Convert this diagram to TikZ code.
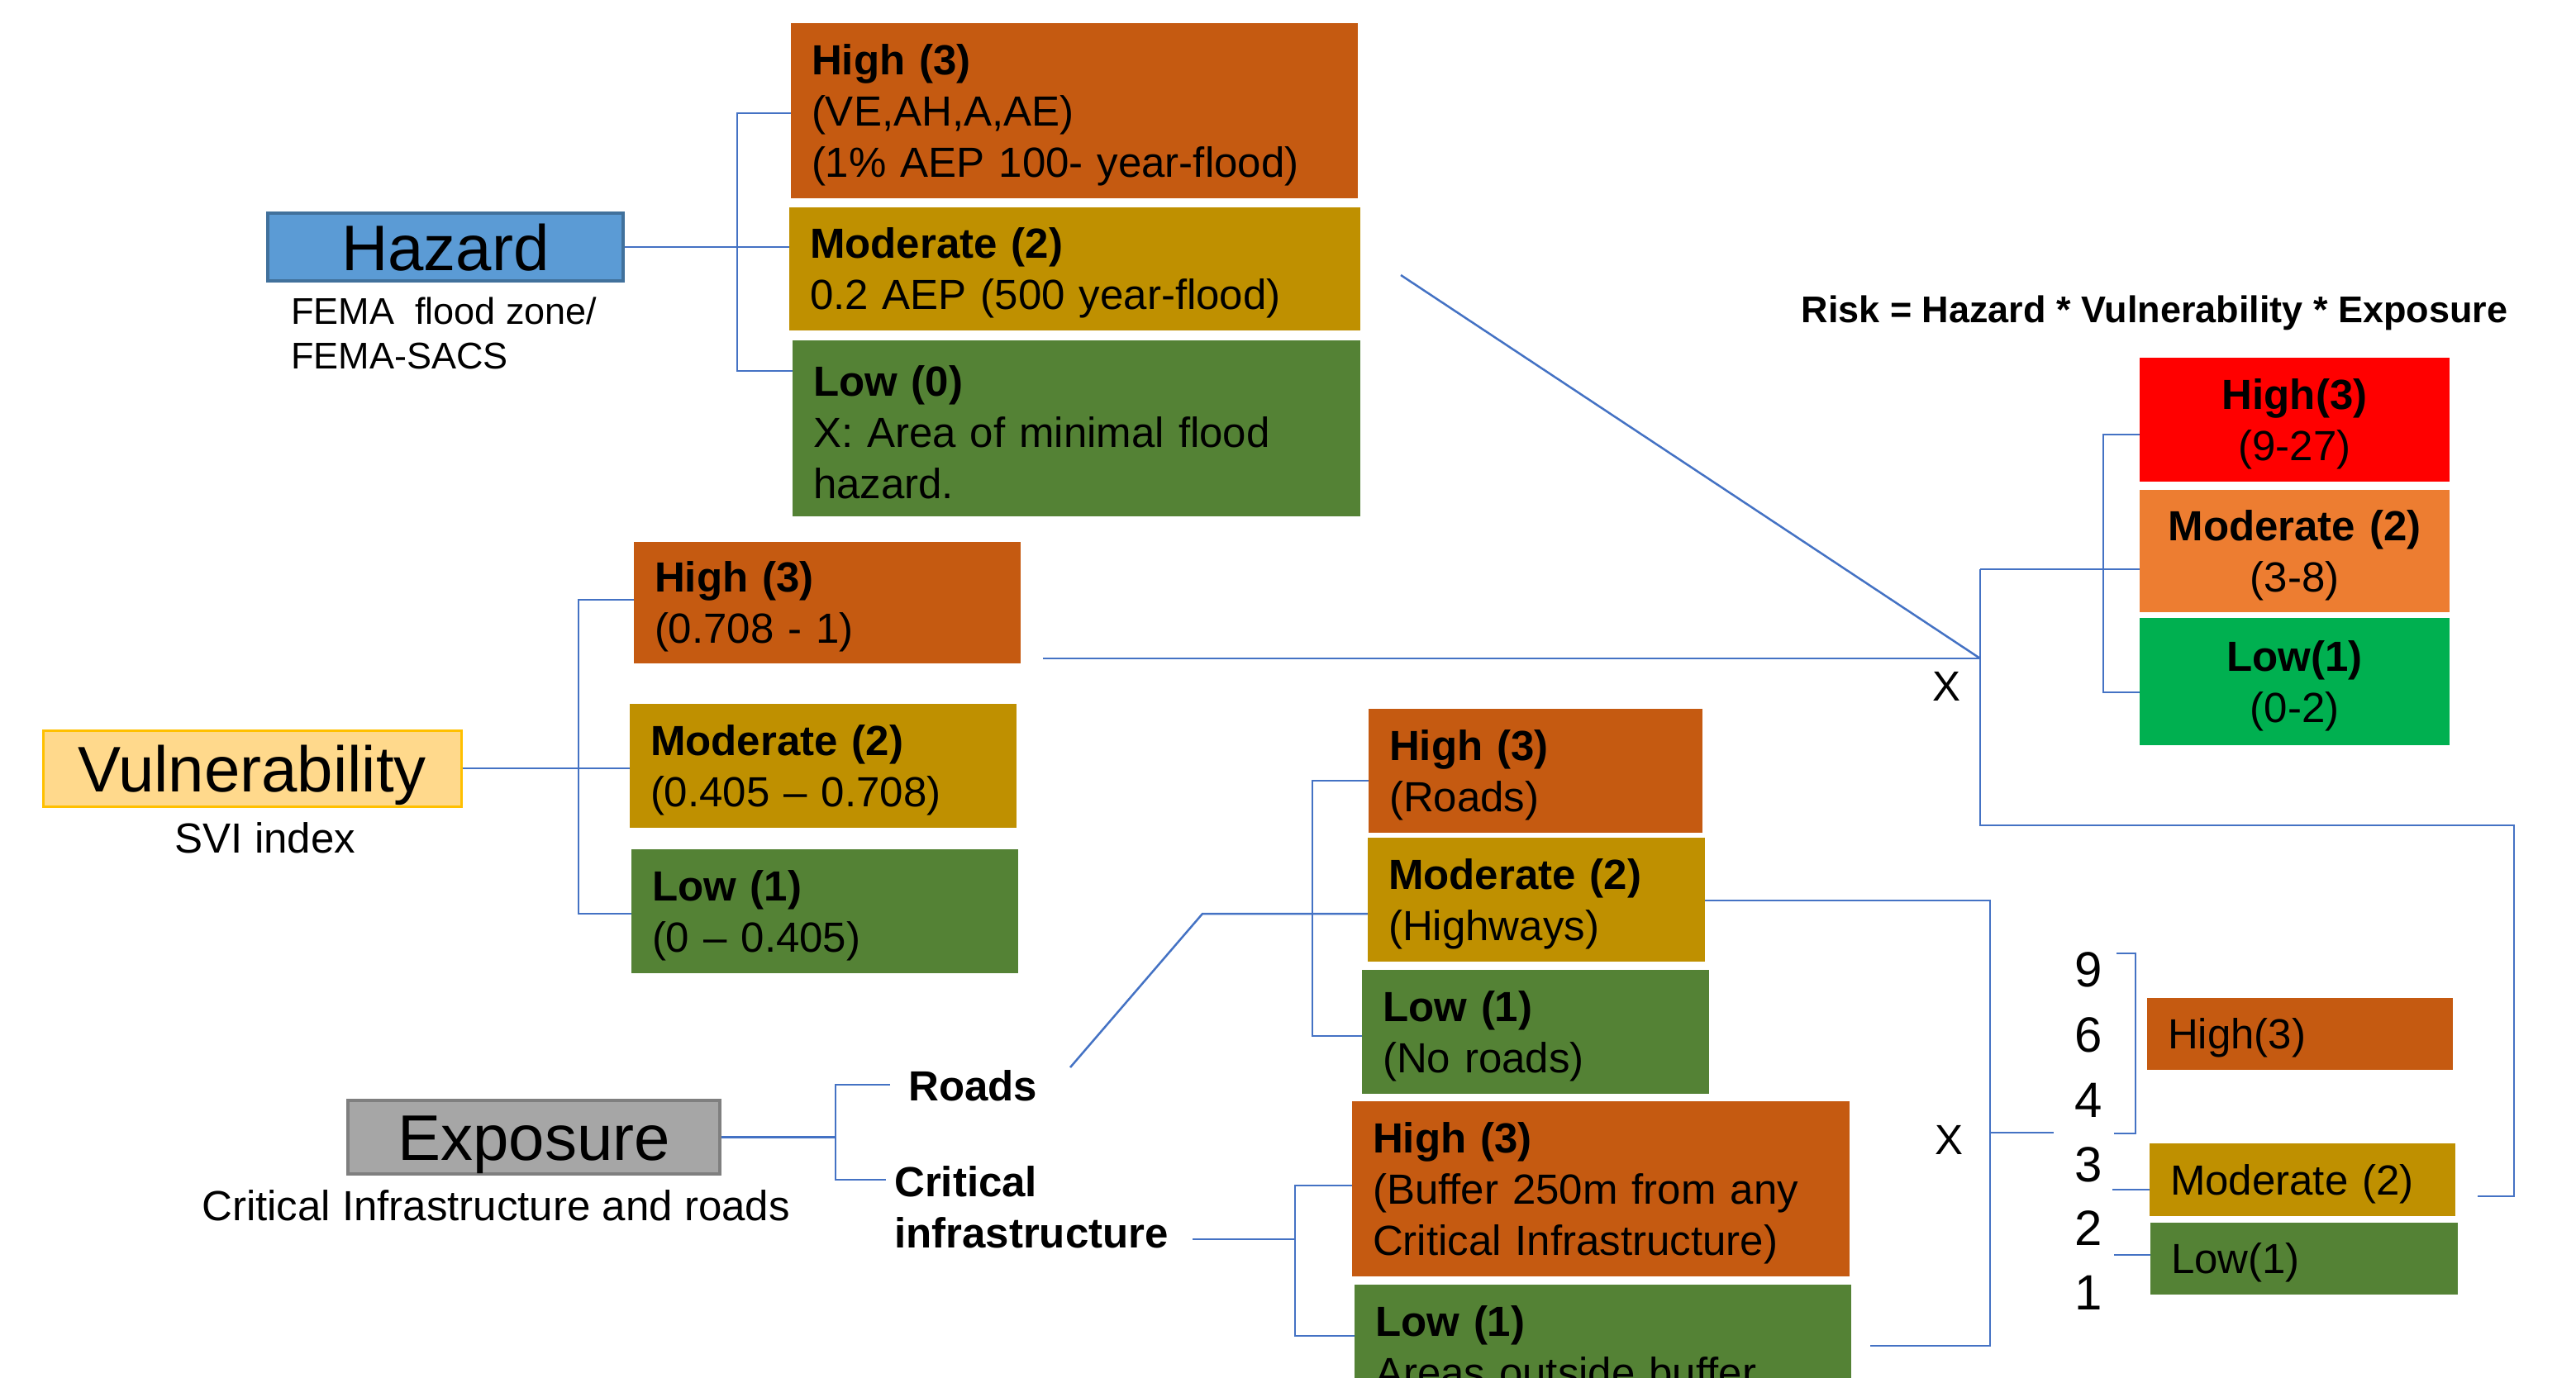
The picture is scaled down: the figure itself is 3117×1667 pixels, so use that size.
\documentclass[tikz,border=0pt]{standalone}
\usepackage{fontspec}
\setmainfont{Liberation Sans}
\definecolor{cOr}{HTML}{C55A11}
\definecolor{cGold}{HTML}{BF9000}
\definecolor{cGreen}{HTML}{548235}
\definecolor{cRed}{HTML}{FF0000}
\definecolor{cOrange}{HTML}{ED7D31}
\definecolor{cBright}{HTML}{00B050}
\definecolor{cBlue}{HTML}{5B9BD5}
\definecolor{cBlueD}{HTML}{41719C}
\definecolor{cYel}{HTML}{FFD98C}
\definecolor{cYelD}{HTML}{FFC000}
\definecolor{cGray}{HTML}{A6A6A6}
\definecolor{cGrayD}{HTML}{7F7F7F}
\definecolor{linec}{HTML}{4472C4}
\tikzset{
  base/.style={inner sep=0pt, font=\fontsize{51}{62}\selectfont},
  lbox/.style={base, align=left, inner xsep=25pt, inner ysep=0pt, execute at begin node={\rule{0pt}{47pt}}},
  cbox/.style={base, align=center, text width=325pt, inner xsep=25pt, inner ysep=0pt, execute at begin node={\rule{0pt}{47pt}}},
  titlebox/.style={inner sep=0pt, font=\fontsize{78}{94}\selectfont, line width=4pt, text height=56pt, text depth=0pt},
  boldt/.style={base, font=\fontsize{51}{62}\selectfont\bfseries},
  conn/.style={draw=linec, line width=2.5pt},
}
\begin{document}
\begin{tikzpicture}[x=1pt,y=-1pt]
\useasboundingbox (0,0) rectangle (3117,1667);
\clip (0,0) rectangle (3117,1667);
\fill[white] (0,0) rectangle (3117,1667);

% Hazard
\node[titlebox, fill=cBlue, draw=cBlueD, minimum width=430pt, minimum height=82pt] (haz) at (539,299) {Hazard};
\node[base, font=\fontsize{45}{54}\selectfont, align=left, anchor=west] (fema) at (352,403) {FEMA\ \ flood zone/\\FEMA-SACS};
\node[lbox, fill=cOr, text width=636pt, minimum height=212pt] (hH) at (1300,134) {\textbf{High (3)}\\(VE,AH,A,AE)\\(1\% AEP 100- year-flood)};
\node[lbox, fill=cGold, text width=641pt, minimum height=149pt] (hM) at (1300.5,325.5) {\textbf{Moderate (2)}\\0.2 AEP (500 year-flood)};
\node[lbox, fill=cGreen, text width=637pt, minimum height=213pt] (hL) at (1302.5,518.5) {\textbf{Low (0)}\\X: Area of minimal flood\\hazard.};

% Vulnerability
\node[titlebox, fill=cYel, draw=cYelD, line width=3pt, minimum width=506pt, minimum height=92pt] (vul) at (305,930) {Vulnerability};
\node[base] (svi) at (321,1014) {SVI index};
\node[lbox, fill=cOr, text width=418pt, minimum height=147pt] (vH) at (1001,729.5) {\textbf{High (3)}\\(0.708 - 1)};
\node[lbox, fill=cGold, text width=418pt, minimum height=150pt] (vM) at (996,927) {\textbf{Moderate (2)}\\(0.405 – 0.708)};
\node[lbox, fill=cGreen, text width=418pt, minimum height=150pt] (vL) at (998,1103) {\textbf{Low (1)}\\(0 – 0.405)};

% Exposure
\node[titlebox, fill=cGray, draw=cGrayD, minimum width=450pt, minimum height=89pt] (expo) at (646,1376.5) {Exposure};
\node[base] (cisub) at (600,1459) {Critical Infrastructure and roads};
\node[boldt, anchor=west] (roads) at (1099,1314) {Roads};
\node[boldt, align=left, anchor=west] (crit) at (1082,1461) {Critical\\infrastructure};
\node[lbox, fill=cOr, text width=354pt, minimum height=150pt] (rH) at (1858,933) {\textbf{High (3)}\\(Roads)};
\node[lbox, fill=cGold, text width=358pt, minimum height=150pt] (rM) at (1859,1089) {\textbf{Moderate (2)}\\(Highways)};
\node[lbox, fill=cGreen, text width=370pt, minimum height=150pt] (rL) at (1858,1249) {\textbf{Low (1)}\\(No roads)};
\node[lbox, fill=cOr, text width=552pt, minimum height=212pt] (cH) at (1937,1439) {\textbf{High (3)}\\(Buffer 250m from any\\Critical Infrastructure)};
\node[lbox, fill=cGreen, text width=551pt, minimum height=140pt] (cL) at (1939.5,1625) {\textbf{Low (1)}\\Areas outside buffer};

% Risk
\node[base, font=\fontsize{45}{54}\selectfont\bfseries] (risk) at (2607,379) {Risk = Hazard * Vulnerability * Exposure};
\node[cbox, fill=cRed, minimum height=150pt] (kH) at (2776.5,508) {\textbf{High(3)}\\(9-27)};
\node[cbox, fill=cOrange, minimum height=148pt] (kM) at (2776.5,667) {\textbf{Moderate (2)}\\(3-8)};
\node[cbox, fill=cBright, minimum height=154pt] (kL) at (2776.5,825) {\textbf{Low(1)}\\(0-2)};
\node[base] (x1) at (2355,831) {X};
\node[base] (x2) at (2358,1380) {X};

% numbers and classes
\node[base, font=\fontsize{60}{72}\selectfont] (n9) at (2527,1174) {9};
\node[base, font=\fontsize{60}{72}\selectfont] (n6) at (2527,1253) {6};
\node[base, font=\fontsize{60}{72}\selectfont] (n4) at (2527,1332) {4};
\node[base, font=\fontsize{60}{72}\selectfont] (n3) at (2527,1410) {3};
\node[base, font=\fontsize{60}{72}\selectfont] (n2) at (2527,1487) {2};
\node[base, font=\fontsize{60}{72}\selectfont] (n1) at (2527,1565) {1};
\node[lbox, fill=cOr, text width=320pt, minimum height=87pt] (sH) at (2783,1251.5) {High(3)};
\node[lbox, fill=cGold, text width=320pt, minimum height=88pt] (sM) at (2786,1428) {Moderate (2)};
\node[lbox, fill=cGreen, text width=322pt, minimum height=87pt] (sL) at (2788,1523.5) {Low(1)};

% coordinates
\coordinate (hb1) at (892,137); \coordinate (hb2) at (892,449);
\coordinate (vb1) at (700,726); \coordinate (vb2) at (700,1106);
\coordinate (J) at (2396,797); \coordinate (vs) at (1262,797); \coordinate (hs) at (1695,333);
\coordinate (Jt) at (2396,689); \coordinate (Jb) at (2396,999);
\coordinate (R1) at (3042,999); \coordinate (R2) at (3042,1448); \coordinate (Rend) at (2998,1448);
\coordinate (kb1) at (2545,526); \coordinate (kb2) at (2545,838);
\coordinate (eb1) at (1011,1313); \coordinate (eb2) at (1011,1428);
\coordinate (re) at (1077,1313); \coordinate (ce) at (1072,1428);
\coordinate (ci) at (1443,1500); \coordinate (cb) at (1567,1500);
\coordinate (cb1) at (1567,1435); \coordinate (cb2) at (1567,1617);
\coordinate (rd1) at (1295,1292); \coordinate (rd2) at (1455,1106);
\coordinate (rb1) at (1588,945); \coordinate (rb2) at (1588,1254);
\coordinate (m1) at (2408,1090); \coordinate (m2) at (2408,1629); \coordinate (m3) at (2263,1629);
\coordinate (mx) at (2485,1371);
\coordinate (nb0) at (2561,1154); \coordinate (nb1) at (2584,1154);
\coordinate (nb2) at (2584,1372); \coordinate (nb3) at (2558,1372);
\coordinate (sm0) at (2556,1440); \coordinate (sl0) at (2558,1519);

% connectors
\draw[conn] (haz.east) -- (haz.east -| hM.west);
\draw[conn] (hH.west |- hb1) -- (hb1) -- (hb2) -- (hL.west |- hb2);
\draw[conn] (vul.east) -- (vul.east -| vM.west);
\draw[conn] (vH.west |- vb1) -- (vb1) -- (vb2) -- (vL.west |- vb2);
\draw[conn] (vs) -- (J);
\draw[conn] (hs) -- (J);
\draw[conn] (Jt) -- (Jb) -- (R1) -- (R2) -- (Rend);
\draw[conn] (Jt) -- (Jt -| kM.west);
\draw[conn] (kH.west |- kb1) -- (kb1) -- (kb2) -- (kL.west |- kb2);
\draw[conn] (expo.east) -- (expo.east -| eb1);
\draw[conn] (re) -- (eb1) -- (eb2) -- (ce);
\draw[conn] (ci) -- (cb);
\draw[conn] (cH.west |- cb1) -- (cb1) -- (cb2) -- (cL.west |- cb2);
\draw[conn] (rd1) -- (rd2) -- (rd2 -| rM.west);
\draw[conn] (rH.west |- rb1) -- (rb1) -- (rb2) -- (rL.west |- rb2);
\draw[conn] (rM.east |- m1) -- (m1) -- (m2) -- (m3);
\draw[conn] (m1 |- mx) -- (mx);
\draw[conn] (nb0) -- (nb1) -- (nb2) -- (nb3);
\draw[conn] (sm0) -- (sm0 -| sM.west);
\draw[conn] (sl0) -- (sl0 -| sL.west);
\end{tikzpicture}
\end{document}
